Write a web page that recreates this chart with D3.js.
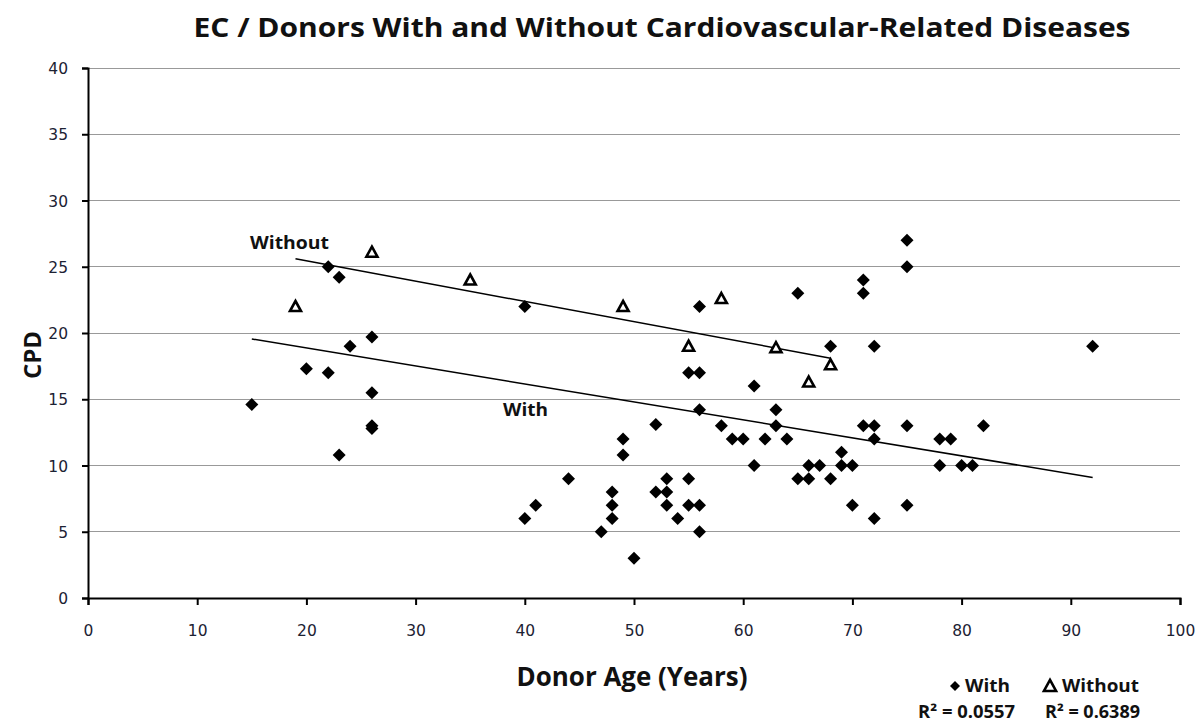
<!DOCTYPE html>
<html>
<head>
<meta charset="utf-8">
<script src="https://cdn.jsdelivr.net/npm/d3@7"></script>
<style>
  html, body { margin: 0; padding: 0; background: #fff; }
  svg { display: block; }
</style>
</head>
<body>
<svg id="chart" width="1200" height="723"></svg>
<script>
// ---- Data ----
const withAge = [15,20,22,22,23,23,24,26,26,26,26,40,40,41,44,47,48,48,48,49,49,50,52,52,53,53,53,54,55,55,55,56,56,56,56,56,58,59,60,61,61,62,63,63,64,65,65,66,66,67,68,68,69,69,70,70,71,71,71,72,72,72,72,75,75,75,75,78,78,79,80,81,82,92];
const withCPD = [14.6,17.3,17,25,24.2,10.8,19,19.7,15.5,13,12.8,22,6,7,9,5,8,7,6,12,10.8,3,13.1,8,9,8,7,6,17,9,7,22,17,14.2,7,5,13,12,12,16,10,12,14.2,13,12,23,9,10,9,10,19,9,11,10,10,7,24,23,13,19,13,12,6,27,25,13,7,12,10,12,10,10,13,19];
const withoutAge = [19,26,35,49,55,58,63,66,68];
const withoutCPD = [22,26.1,24,22,19,22.6,18.9,16.3,17.6];
// Trendlines as drawn (endpoints)
const withTrendAge = [15, 92];
const withTrendCPD = [19.55, 9.1];
const withoutTrendAge = [19, 68];
const withoutTrendCPD = [25.6, 18.1];
const xTicks = [0,10,20,30,40,50,60,70,80,90,100];
const yTicks = [0,5,10,15,20,25,30,35,40];
const r2With = "R² = 0.0557";
const r2Without = "R² = 0.6389";

// ---- Layout ----
const svg = d3.select("#chart");
const x = d3.scaleLinear().domain([0,100]).range([88,1180]);
const y = d3.scaleLinear().domain([0,40]).range([598,68]);

// gridlines
svg.append("g").selectAll("line").data(yTicks.filter(d=>d>0)).join("line")
  .attr("x1", x(0)).attr("x2", x(100))
  .attr("y1", d=>y(d)).attr("y2", d=>y(d))
  .attr("stroke", "#999").attr("stroke-width", 1).attr("shape-rendering","crispEdges");

// axes
const xAxis = d3.axisBottom(x).tickValues(xTicks).tickSize(7).tickFormat(d3.format("d"));
const yAxis = d3.axisLeft(y).tickValues(yTicks).tickSize(6).tickFormat(d3.format("d"));
const gx = svg.append("g").attr("transform", `translate(0,${y(0)})`).call(xAxis);
const gy = svg.append("g").attr("transform", `translate(${x(0)},0)`).call(yAxis);
[gx, gy].forEach(g => {
  g.select(".domain").attr("stroke", "#000").attr("stroke-width", 2);
  g.selectAll(".tick line").attr("stroke", "#000").attr("stroke-width", 2);
  g.selectAll(".tick text").attr("font-family", "DejaVu Sans, Verdana, sans-serif")
    .attr("font-size", 15.5).attr("fill", "#1c2233");
});
gx.selectAll(".tick text").attr("y", 38).attr("dy", 0);
gy.selectAll(".tick text").attr("x", -20).attr("dy", "0.36em");

// trendlines
const line = d3.line().x(d=>x(d[0])).y(d=>y(d[1]));
svg.append("path").datum(withTrendAge.map((a,i)=>[a, withTrendCPD[i]]))
  .attr("d", line).attr("stroke", "#000").attr("stroke-width", 1.5).attr("fill", "none");
svg.append("path").datum(withoutTrendAge.map((a,i)=>[a, withoutTrendCPD[i]]))
  .attr("d", line).attr("stroke", "#000").attr("stroke-width", 1.5).attr("fill", "none");

// markers
const diamond = r => `M0,${-r}L${r},0L0,${r}L${-r},0Z`;
const tri = s => `M0,${-s*0.55}L${s*0.55},${s*0.45}L${-s*0.55},${s*0.45}Z`;
svg.append("g").selectAll("path").data(withAge.map((a,i)=>[a, withCPD[i]])).join("path")
  .attr("d", diamond(6.5))
  .attr("transform", d=>`translate(${x(d[0])},${y(d[1])})`)
  .attr("fill", "#000");
svg.append("g").selectAll("path").data(withoutAge.map((a,i)=>[a, withoutCPD[i]])).join("path")
  .attr("d", tri(10))
  .attr("transform", d=>`translate(${x(d[0])},${y(d[1])})`)
  .attr("fill", "#fff").attr("stroke", "#000").attr("stroke-width", 2.6).attr("stroke-linejoin","miter");

// text
const font = "Open Sans, Liberation Sans, sans-serif";
svg.append("text").attr("x", 662).attr("y", 37).attr("text-anchor", "middle")
  .attr("font-family", font).attr("font-weight", "bold").attr("font-size", 27)
  .attr("textLength", 937).attr("lengthAdjust", "spacingAndGlyphs")
  .attr("fill", "#111")
  .text("EC / Donors With and Without Cardiovascular-Related Diseases");

svg.append("text").attr("x", 632).attr("y", 686).attr("text-anchor", "middle")
  .attr("font-family", font).attr("font-weight", "bold").attr("font-size", 26)
  .attr("textLength", 231).attr("lengthAdjust", "spacingAndGlyphs")
  .attr("fill", "#111").text("Donor Age (Years)");

svg.append("text").attr("transform", "translate(41,355) rotate(-90)").attr("text-anchor", "middle")
  .attr("font-family", font).attr("font-weight", "bold").attr("font-size", 24)
  .attr("fill", "#111").text("CPD");

svg.append("text").attr("x", 250).attr("y", 249)
  .attr("font-family", font).attr("font-weight", "bold").attr("font-size", 17)
  .attr("textLength", 79).attr("lengthAdjust", "spacingAndGlyphs")
  .attr("fill", "#111").text("Without");
svg.append("text").attr("x", 503).attr("y", 416)
  .attr("font-family", font).attr("font-weight", "bold").attr("font-size", 17)
  .attr("textLength", 45).attr("lengthAdjust", "spacingAndGlyphs")
  .attr("fill", "#111").text("With");

// legend
svg.append("path").attr("d", diamond(5)).attr("transform", "translate(955,686)").attr("fill", "#000");
svg.append("text").attr("x", 965).attr("y", 692)
  .attr("font-family", font).attr("font-weight", "bold").attr("font-size", 17)
  .attr("textLength", 45).attr("lengthAdjust", "spacingAndGlyphs")
  .attr("fill", "#111").text("With");
svg.append("path").attr("d", tri(11)).attr("transform", "translate(1050,686)")
  .attr("fill", "#fff").attr("stroke", "#000").attr("stroke-width", 2.6);
svg.append("text").attr("x", 1062).attr("y", 692)
  .attr("font-family", font).attr("font-weight", "bold").attr("font-size", 17)
  .attr("textLength", 77).attr("lengthAdjust", "spacingAndGlyphs")
  .attr("fill", "#111").text("Without");
svg.append("text").attr("x", 918).attr("y", 718)
  .attr("font-family", font).attr("font-weight", "bold").attr("font-size", 17)
  .attr("textLength", 97).attr("lengthAdjust", "spacingAndGlyphs")
  .attr("fill", "#111").text(r2With);
svg.append("text").attr("x", 1045).attr("y", 718)
  .attr("font-family", font).attr("font-weight", "bold").attr("font-size", 17)
  .attr("textLength", 95).attr("lengthAdjust", "spacingAndGlyphs")
  .attr("fill", "#111").text(r2Without);
</script>
</body>
</html>
